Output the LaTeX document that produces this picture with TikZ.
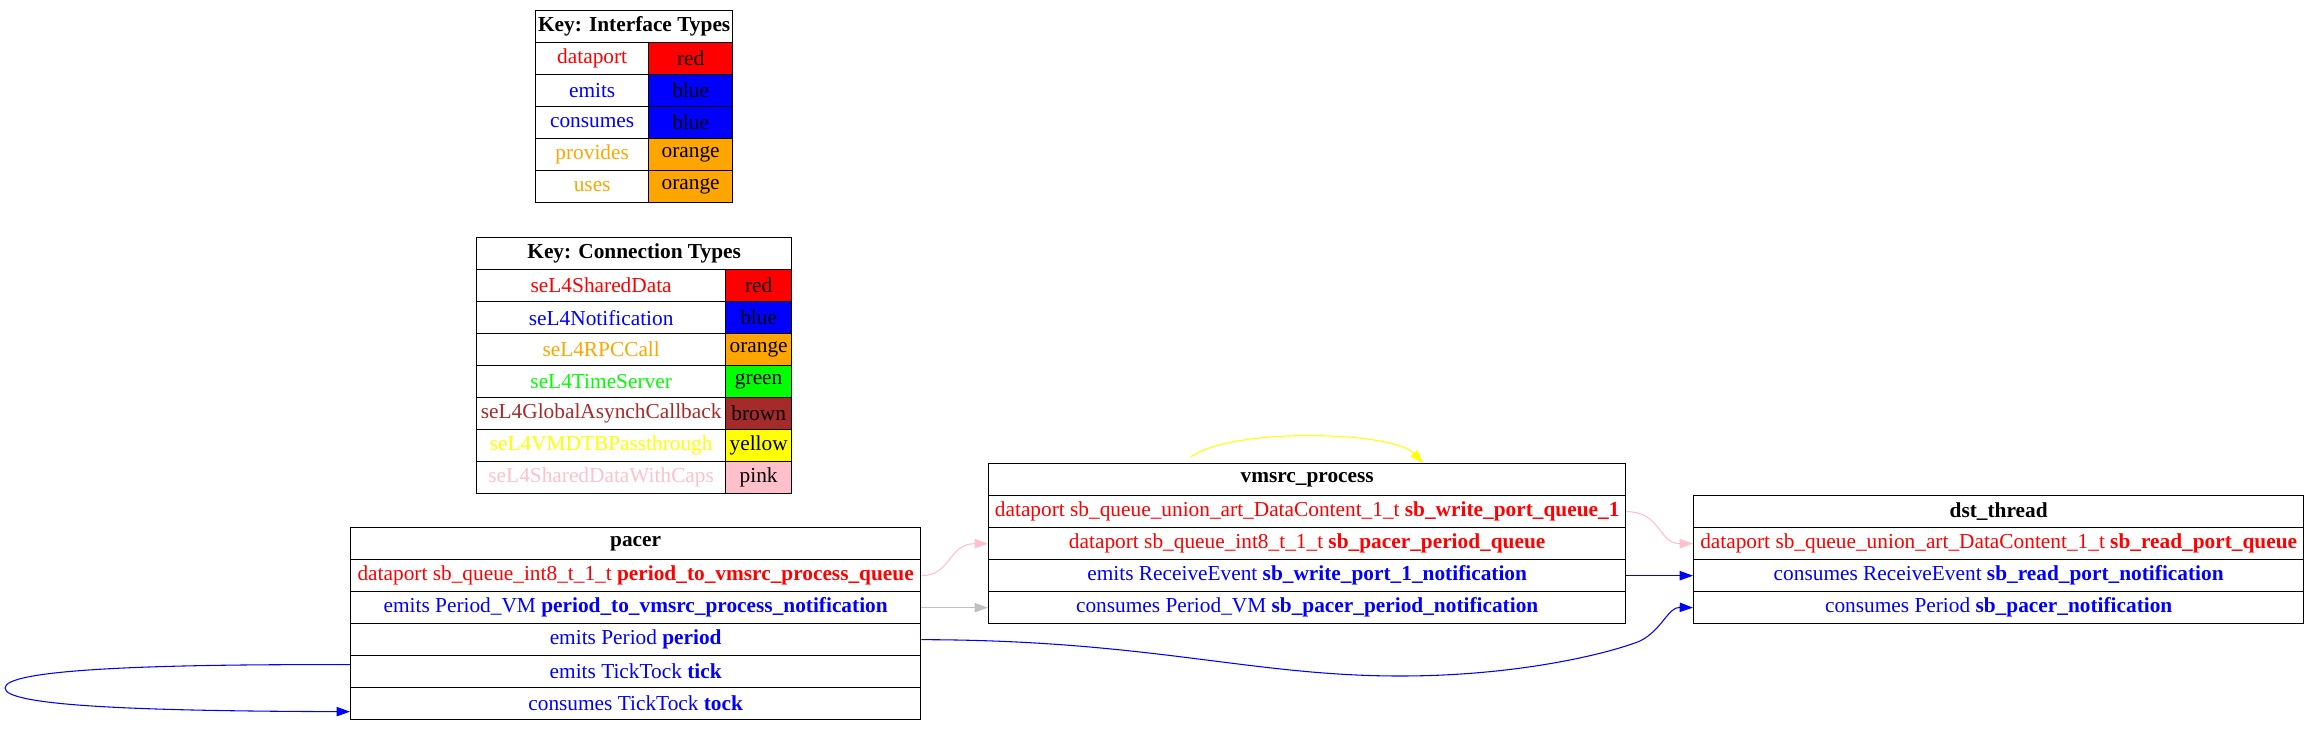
\documentclass[tikz,border=0pt]{standalone}
\usepackage{fontspec}
\setmainfont{Liberation Serif}
\usetikzlibrary{arrows.meta,calc}
\definecolor{gvred}{HTML}{FF0000}
\definecolor{gvblue}{HTML}{0000FF}
\definecolor{gvorange}{HTML}{FFA500}
\definecolor{gvgreen}{HTML}{00FF00}
\definecolor{gvbrown}{HTML}{A52A2A}
\definecolor{gvyellow}{HTML}{FFFF00}
\definecolor{gvpink}{HTML}{FFC0CB}
\definecolor{gvgray}{HTML}{C0C0C0}
\tikzset{
  cell/.style={draw=black, line width=1pt, inner sep=0pt, anchor=north west,
    minimum height={32*0.75pt}, font=\fontsize{16}{18}\selectfont, text=black},
  conn/.style={line width=0.8pt, -{Triangle[length=10pt,width=7pt]}},
}
\newcommand\mycell[6]{\node[cell,minimum width={#4*0.75pt},#5] (#1) at (#2,#3) {#6};}
\begin{document}
\begin{tikzpicture}[x=0.75pt,y=-0.75pt]
\useasboundingbox (0,0) rectangle (2319,731);
% Interface key
\mycell{ikH}{535}{10}{197}{}{\textbf{Key: Interface Types}}
\mycell{ik1a}{535}{42}{113}{text=gvred}{dataport}
\mycell{ik1b}{648}{42}{84}{fill=gvred}{red}
\mycell{ik2a}{535}{74}{113}{text=gvblue}{emits}
\mycell{ik2b}{648}{74}{84}{fill=gvblue}{blue}
\mycell{ik3a}{535}{106}{113}{text=gvblue}{consumes}
\mycell{ik3b}{648}{106}{84}{fill=gvblue}{blue}
\mycell{ik4a}{535}{138}{113}{text=gvorange}{provides}
\mycell{ik4b}{648}{138}{84}{fill=gvorange}{orange}
\mycell{ik5a}{535}{170}{113}{text=gvorange}{uses}
\mycell{ik5b}{648}{170}{84}{fill=gvorange}{orange}
% Connection key
\mycell{ckH}{476}{237}{315}{}{\textbf{Key: Connection Types}}
\mycell{ck1a}{476}{269}{249}{text=gvred}{seL4SharedData}
\mycell{ck1b}{725}{269}{66}{fill=gvred}{red}
\mycell{ck2a}{476}{301}{249}{text=gvblue}{seL4Notification}
\mycell{ck2b}{725}{301}{66}{fill=gvblue}{blue}
\mycell{ck3a}{476}{333}{249}{text=gvorange}{seL4RPCCall}
\mycell{ck3b}{725}{333}{66}{fill=gvorange}{orange}
\mycell{ck4a}{476}{365}{249}{text=gvgreen}{seL4TimeServer}
\mycell{ck4b}{725}{365}{66}{fill=gvgreen}{green}
\mycell{ck5a}{476}{397}{249}{text=gvbrown}{seL4GlobalAsynchCallback}
\mycell{ck5b}{725}{397}{66}{fill=gvbrown}{brown}
\mycell{ck6a}{476}{429}{249}{text=gvyellow}{seL4VMDTBPassthrough}
\mycell{ck6b}{725}{429}{66}{fill=gvyellow}{yellow}
\mycell{ck7a}{476}{461}{249}{text=gvpink}{seL4SharedDataWithCaps}
\mycell{ck7b}{725}{461}{66}{fill=gvpink}{pink}
% pacer
\mycell{pH}{350}{527}{570}{}{\textbf{pacer}}
\mycell{p1}{350}{559}{570}{text=gvred}{dataport sb\_queue\_int8\_t\_1\_t \textbf{period\_to\_vmsrc\_process\_queue}}
\mycell{p2}{350}{591}{570}{text=gvblue}{emits Period\_VM \textbf{period\_to\_vmsrc\_process\_notification}}
\mycell{p3}{350}{623}{570}{text=gvblue}{emits Period \textbf{period}}
\mycell{p4}{350}{655}{570}{text=gvblue}{emits TickTock \textbf{tick}}
\mycell{p5}{350}{687}{570}{text=gvblue}{consumes TickTock \textbf{tock}}
% vmsrc_process
\mycell{vH}{988}{463}{637}{}{\textbf{vmsrc\_process}}
\mycell{v1}{988}{495}{637}{text=gvred}{dataport sb\_queue\_union\_art\_DataContent\_1\_t \textbf{sb\_write\_port\_queue\_1}}
\mycell{v2}{988}{527}{637}{text=gvred}{dataport sb\_queue\_int8\_t\_1\_t \textbf{sb\_pacer\_period\_queue}}
\mycell{v3}{988}{559}{637}{text=gvblue}{emits ReceiveEvent \textbf{sb\_write\_port\_1\_notification}}
\mycell{v4}{988}{591}{637}{text=gvblue}{consumes Period\_VM \textbf{sb\_pacer\_period\_notification}}
% dst_thread
\mycell{dH}{1693}{495}{610}{}{\textbf{dst\_thread}}
\mycell{d1}{1693}{527}{610}{text=gvred}{dataport sb\_queue\_union\_art\_DataContent\_1\_t \textbf{sb\_read\_port\_queue}}
\mycell{d2}{1693}{559}{610}{text=gvblue}{consumes ReceiveEvent \textbf{sb\_read\_port\_notification}}
\mycell{d3}{1693}{591}{610}{text=gvblue}{consumes Period \textbf{sb\_pacer\_notification}}
% connectors
\coordinate (ys) at ($(vH.north west)+(203,-6)$);
\coordinate (ye) at ($(vH.north west)+(435,0)$);
\draw[conn, gvyellow] (ys) .. controls ($(ys)+(40,-30)$) and ($(ye)+(-30,-32)$) .. (ye);
\draw[conn, gvpink] (p1.east) .. controls ($(p1.east)+(30,0)$) and ($(v2.west)+(-40,0)$) .. (v2.west);
\draw[conn, gvgray] (p2.east) -- (v4.west);
\draw[conn, gvblue] (v3.east) -- (d2.west);
\draw[conn, gvpink] (v1.east) .. controls ($(v1.east)+(35,0)$) and ($(d1.west)+(-35,0)$) .. (d1.west);
\coordinate (bl) at (1400,676);
\coordinate (bm) at (1640,641);
\draw[conn, gvblue] (p3.east) .. controls (1150,640) and (1250,676) .. (bl)
  .. controls (1520,676) and (1610,653) .. (bm)
  .. controls (1662,630) and (1668,607) .. (d3.west);
\coordinate (ls) at ($(p4.west)+(0,-7)$);
\coordinate (le) at ($(p5.west)+(0,8)$);
\coordinate (lm) at (5,688);
\draw[conn, gvblue] (ls) .. controls (140,664) and (5,670) .. (lm)
  .. controls (5,706) and (140,711) .. (le);
\end{tikzpicture}
\end{document}
